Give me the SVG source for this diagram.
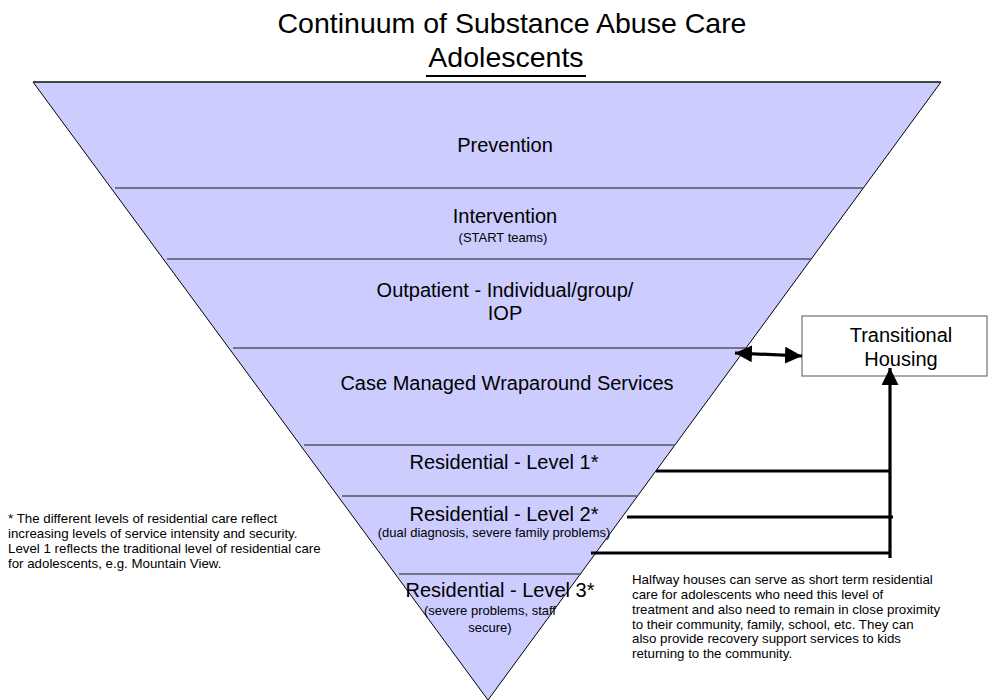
<svg xmlns="http://www.w3.org/2000/svg" width="992" height="700" viewBox="0 0 992 700">
  <style>
    text { font-family: "Liberation Sans", Arial, sans-serif; fill: #000; }
    .title { font-size: 28.5px; text-anchor: middle; }
    .band { font-size: 20px; text-anchor: middle; }
    .sub { font-size: 13px; text-anchor: middle; }
    .note { font-size: 13.3px; }
    .divider { stroke: #55555f; stroke-width: 1.5; fill: none; }
    .link { stroke: #000; stroke-width: 3.2; fill: none; }
  </style>
  <defs>
    <marker id="head" viewBox="0 0 10 10" refX="10" refY="5" markerWidth="17" markerHeight="17" markerUnits="userSpaceOnUse" orient="auto-start-reverse">
      <path d="M0,0 L10,5 L0,10 z" fill="#000"/>
    </marker>
  </defs>

  <rect width="992" height="700" fill="#fff"/>

  <!-- heading -->
  <g id="heading">
    <text class="title" x="512" y="33">Continuum of Substance Abuse Care</text>
    <text class="title" x="506" y="67">Adolescents</text>
    <line x1="426" y1="76" x2="586" y2="76" stroke="#000" stroke-width="2"/>
  </g>

  <!-- inverted pyramid body -->
  <g id="pyramid">
    <polygon points="33,82 941,82 488,700" fill="#ccccff" stroke="#000" stroke-width="1"/>
    <line x1="33" y1="82" x2="941" y2="82" stroke="#333" stroke-width="1.5"/>
    <line class="divider" x1="115" y1="188" x2="863" y2="188"/>
    <line class="divider" x1="167" y1="259" x2="811" y2="259"/>
    <line class="divider" x1="233" y1="348" x2="746" y2="348"/>
    <line class="divider" x1="304" y1="445" x2="675" y2="445"/>
    <line class="divider" x1="342" y1="496" x2="637" y2="496"/>
    <line class="divider" x1="399" y1="574" x2="580" y2="574"/>
  </g>

  <g id="prevention">
    <text class="band" x="505" y="152">Prevention</text>
  </g>
  <g id="intervention">
    <text class="band" x="505" y="223">Intervention</text>
    <text class="sub" x="503" y="242">(START teams)</text>
  </g>
  <g id="outpatient">
    <text class="band" x="505" y="297">Outpatient - Individual/group/</text>
    <text class="band" x="505" y="320">IOP</text>
  </g>
  <g id="case-managed">
    <text class="band" x="507" y="390">Case Managed Wraparound Services</text>
  </g>
  <g id="residential-1">
    <text class="band" x="504" y="469">Residential - Level 1*</text>
  </g>
  <g id="residential-2">
    <text class="band" x="504" y="521">Residential - Level 2*</text>
    <text class="sub" x="494" y="537">(dual diagnosis, severe family problems)</text>
  </g>
  <g id="residential-3">
    <text class="band" x="500" y="597">Residential - Level 3*</text>
    <text class="sub" x="490" y="615">(severe problems, staff</text>
    <text class="sub" x="490" y="632">secure)</text>
  </g>

  <g id="transitional-housing">
    <rect x="802" y="316" width="185" height="60" fill="#fff" stroke="#555" stroke-width="1"/>
    <text class="band" x="901" y="342">Transitional</text>
    <text class="band" x="901" y="366">Housing</text>
  </g>

  <!-- connectors -->
  <g id="connectors">
    <line class="link" x1="735" y1="353" x2="802" y2="356" marker-start="url(#head)" marker-end="url(#head)"/>
    <line class="link" x1="656" y1="471" x2="891" y2="471"/>
    <line class="link" x1="627" y1="517" x2="893" y2="517"/>
    <line class="link" x1="591" y1="553" x2="889" y2="553"/>
    <line class="link" x1="890" y1="558" x2="890" y2="368" marker-end="url(#head)"/>
  </g>

  <!-- side notes -->
  <g id="footnote">
    <text class="note" x="8" y="523">* The different levels of residential care reflect</text>
    <text class="note" x="8" y="538">increasing levels of service intensity and security.</text>
    <text class="note" x="8" y="553">Level 1 reflects the traditional level of residential care</text>
    <text class="note" x="8" y="568">for adolescents, e.g. Mountain View.</text>
  </g>
  <g id="halfway-note">
    <text class="note" x="632" y="584">Halfway houses can serve as short term residential</text>
    <text class="note" x="632" y="599">care for adolescents who need this level of</text>
    <text class="note" x="632" y="614">treatment and also need to remain in close proximity</text>
    <text class="note" x="632" y="629">to their community, family, school, etc.  They can</text>
    <text class="note" x="632" y="643">also provide recovery support services to kids</text>
    <text class="note" x="632" y="658">returning to the community.</text>
  </g>
</svg>
